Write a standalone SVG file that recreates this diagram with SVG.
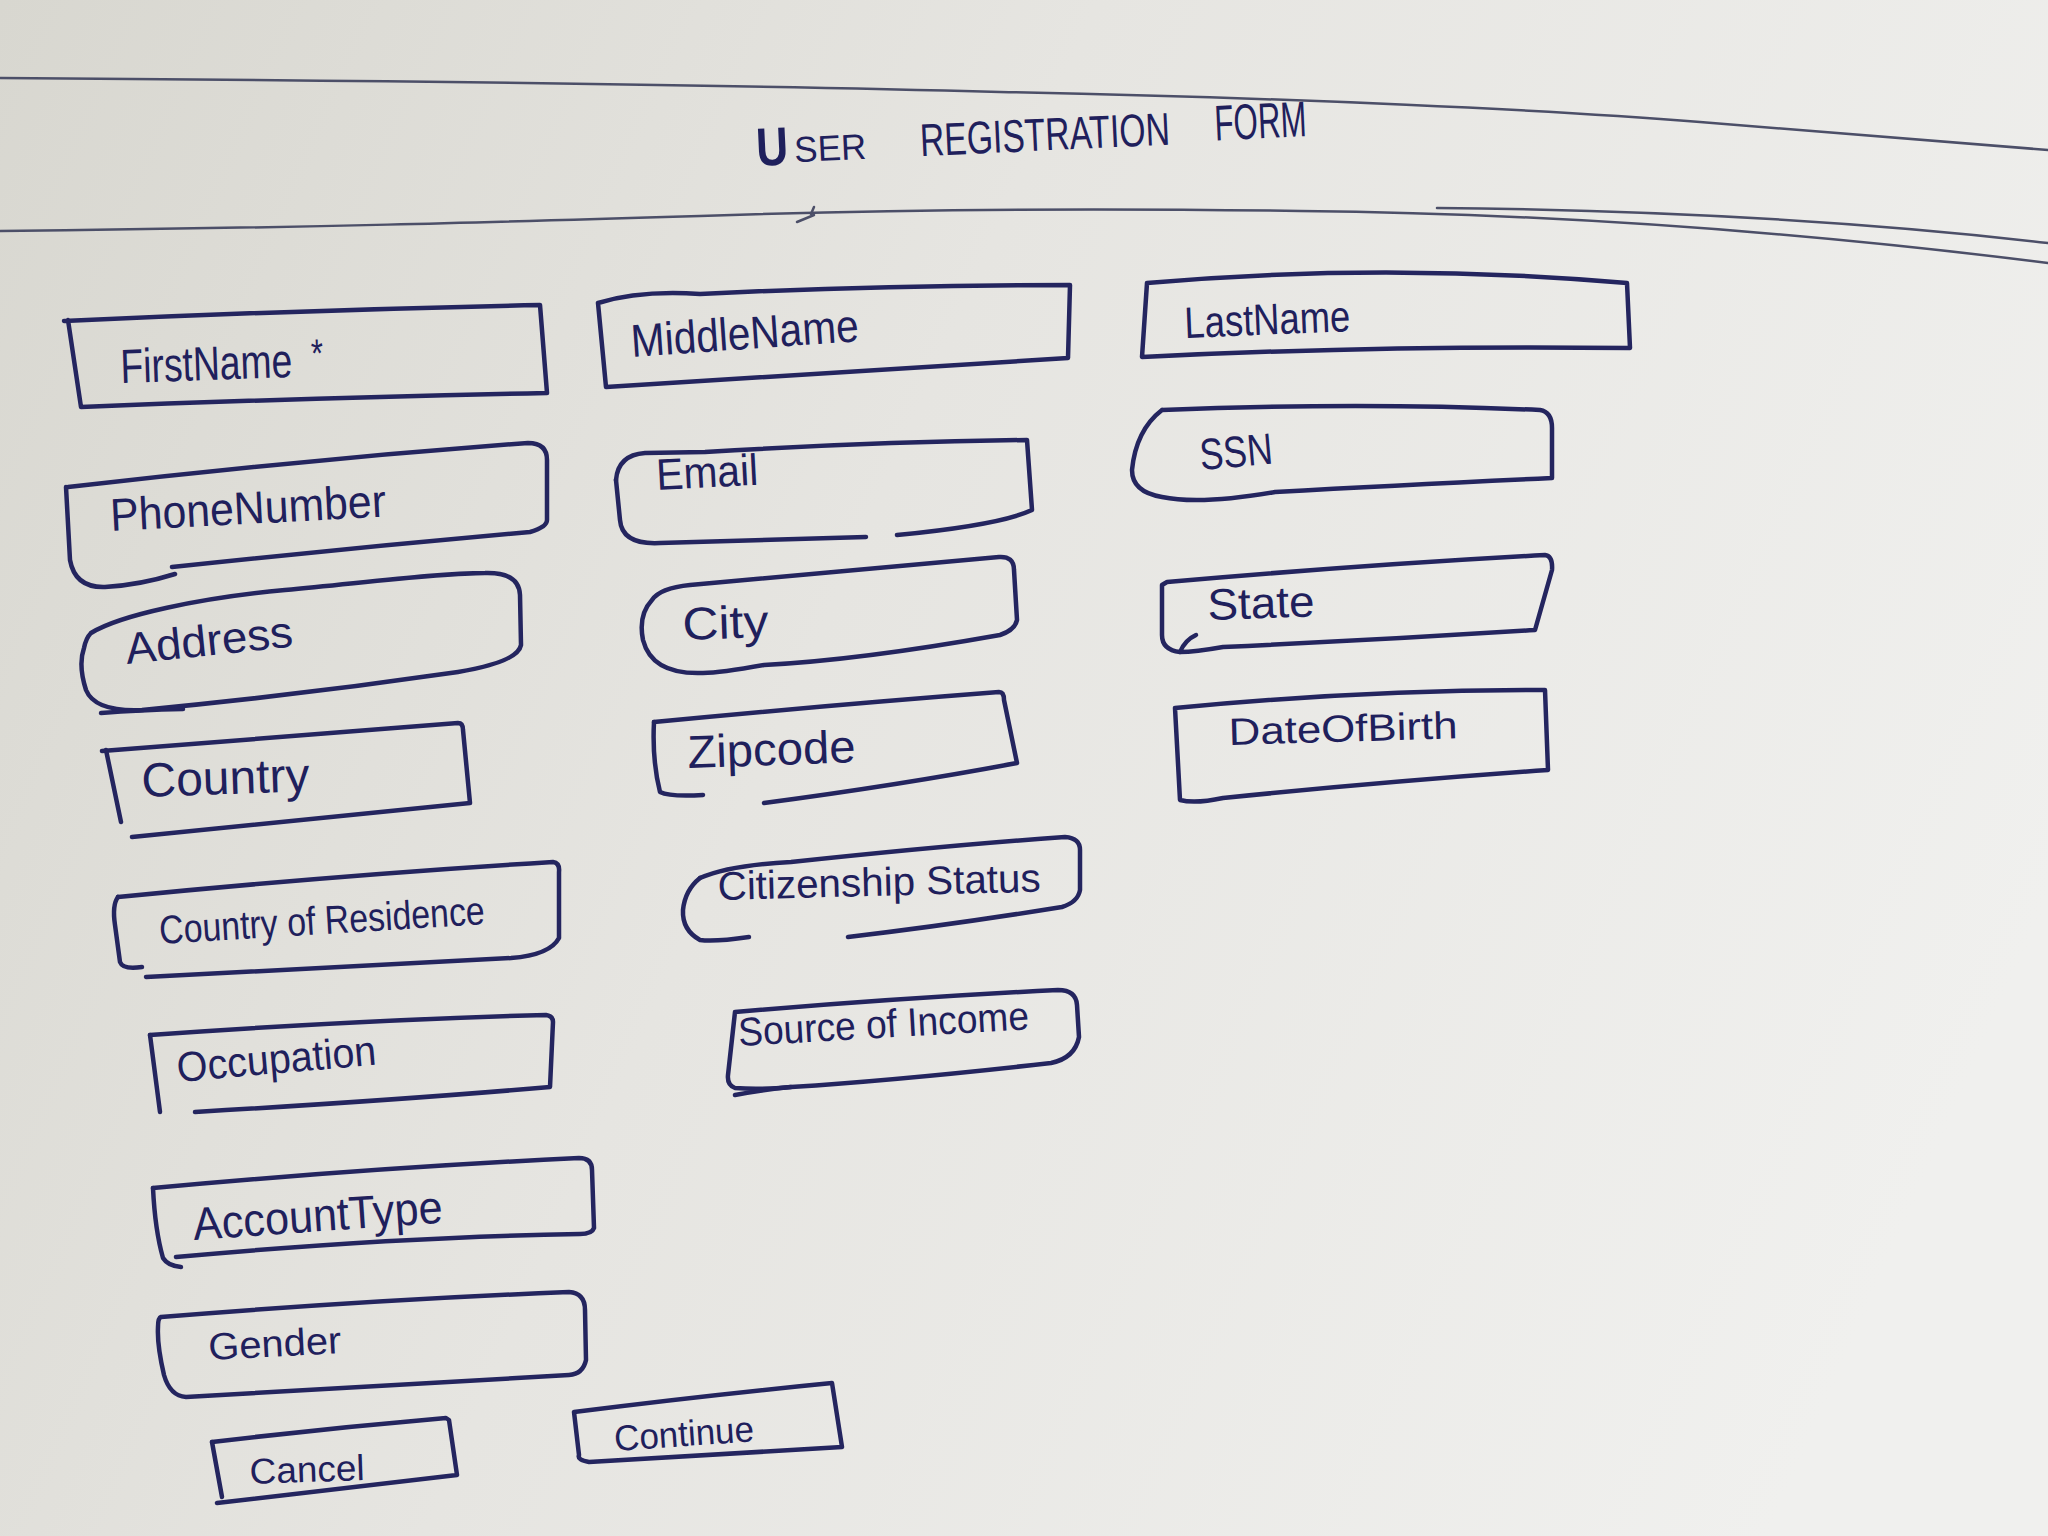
<svg xmlns="http://www.w3.org/2000/svg" width="2048" height="1536" viewBox="0 0 2048 1536">
<defs>
<linearGradient id="paper" x1="0" y1="0" x2="2048" y2="900" gradientUnits="userSpaceOnUse">
<stop offset="0" stop-color="#d8d7d0"/>
<stop offset="0.45" stop-color="#e6e5e1"/>
<stop offset="1" stop-color="#f0f0ee"/>
</linearGradient>
<style>
.box{fill:none;stroke:#24255f;stroke-width:4.5;stroke-linecap:round;stroke-linejoin:round}
.rule{fill:none;stroke:#4c4f68;stroke-width:2.5;stroke-linecap:round}
.lbl{font-family:"Liberation Sans",Arial,sans-serif;fill:#1f205c}
</style>
</defs>
<rect width="2048" height="1536" fill="url(#paper)"/>

<g id="rules">
<path class="rule" d="M0,78 C300,80 700,84 1000,92 C1300,98 1550,110 1700,122 C1850,133 1960,142 2048,150"/>
<path class="rule" d="M0,231 C300,228 500,222 700,216 C900,209 1100,208 1300,211 C1600,214 1850,238 2048,263"/>
<path class="rule" d="M1437,208 C1650,210 1850,220 2048,243"/>
<path class="rule" d="M797,222 L814,215 M811,214 L814,207"/>
</g>

<g id="title">
<text class="lbl" transform="rotate(-2.7 757 166)"><tspan x="757" y="166" font-size="54" font-weight="bold" textLength="32" lengthAdjust="spacingAndGlyphs">U</tspan><tspan x="795" y="164" font-size="36" textLength="72" lengthAdjust="spacingAndGlyphs">SER</tspan><tspan x="921" y="164" font-size="46" textLength="250" lengthAdjust="spacingAndGlyphs">REGISTRATION</tspan><tspan x="1216" y="162" font-size="50" textLength="92" lengthAdjust="spacingAndGlyphs">FORM</tspan></text>
</g>

<g id="connectors"></g>

<g id="firstName">
<path class="box" d="M64,321 Q300,310 540,305 L547,393 Q300,398 81,407 L68,320"/>
<text class="lbl" x="121" y="383" font-size="48" textLength="184" lengthAdjust="spacingAndGlyphs" transform="rotate(-2 121 383)">FirstName<tspan x="312" y="374" font-size="40">*</tspan></text>
</g>

<g id="middleName">
<path class="box" d="M598,303 Q640,290 700,294 Q880,285 1070,285 L1068,358 Q830,372 606,387 L598,303"/>
<text class="lbl" x="632" y="357" font-size="46" textLength="228" lengthAdjust="spacingAndGlyphs" transform="rotate(-4 632 357)">MiddleName</text>
</g>

<g id="lastName">
<path class="box" d="M1147,283 Q1385,262 1627,283 L1630,348 Q1380,345 1142,357 L1147,283"/>
<text class="lbl" x="1185" y="338" font-size="44" textLength="166" lengthAdjust="spacingAndGlyphs" transform="rotate(-2.4 1185 338)">LastName</text>
</g>

<g id="phoneNumber">
<path class="box" d="M68,487 Q300,460 528,443 Q547,443 547,460 L547,520 Q547,527 530,532 Q350,548 172,567"/>
<path class="box" d="M66,487 L70,560 Q75,588 105,587 Q140,585 175,574"/>
<text class="lbl" x="111" y="531" font-size="46" textLength="276" lengthAdjust="spacingAndGlyphs" transform="rotate(-3 111 531)">PhoneNumber</text>
</g>

<g id="email">
<path class="box" d="M616,480 Q618,455 645,453 L705,452 Q870,442 1027,440 L1032,510 Q1000,525 897,535"/>
<path class="box" d="M866,537 Q760,540 660,543 Q622,545 620,520 L616,480"/>
<text class="lbl" x="657" y="490" font-size="44" textLength="102" lengthAdjust="spacingAndGlyphs" transform="rotate(-3 657 490)">Email</text>
</g>

<g id="ssn">
<path class="box" d="M1162,410 Q1360,402 1540,410 Q1552,412 1552,428 L1552,478 Q1400,485 1275,492 Q1200,505 1162,497 Q1132,492 1132,470 Q1136,430 1162,410"/>
<text class="lbl" x="1201" y="470" font-size="44" textLength="73" lengthAdjust="spacingAndGlyphs" transform="rotate(-5 1201 470)">SSN</text>
</g>

<g id="address">
<path class="box" d="M91,633 C120,615 200,598 285,590 S440,573 485,573 Q519,572 520,595 L521,645 Q518,662 458,672 Q300,695 142,710 Q95,712 86,690 Q78,665 84,648 Q86,638 91,633"/>
<path class="box" d="M101,713 Q140,710 183,709"/>
<text class="lbl" x="127" y="664" font-size="44" textLength="168" lengthAdjust="spacingAndGlyphs" transform="rotate(-6 127 664)">Address</text>
</g>

<g id="city">
<path class="box" d="M652,600 Q660,588 690,585 L999,557 Q1014,556 1014,570 L1017,620 Q1015,630 1000,635 Q860,660 764,665 Q720,673 703,673 Q652,675 643,640 Q638,615 652,600"/>
<text class="lbl" x="683" y="640" font-size="46" textLength="86" lengthAdjust="spacingAndGlyphs" transform="rotate(-2 683 640)">City</text>
</g>

<g id="state">
<path class="box" d="M1167,582 Q1360,565 1545,555 Q1553,556 1552,570 L1535,630 Q1380,640 1223,647 Q1195,652 1180,652 Q1162,650 1162,635 L1162,585 L1167,582"/>
<path class="box" d="M1180,652 Q1185,640 1196,635"/>
<text class="lbl" x="1208" y="620" font-size="44" textLength="107" lengthAdjust="spacingAndGlyphs" transform="rotate(-2 1208 620)">State</text>
</g>

<g id="country">
<path class="box" d="M102,751 Q300,735 458,723 Q463,723 463,730 L470,803 Q300,820 132,837"/>
<path class="box" d="M106,750 L121,822"/>
<text class="lbl" x="142" y="797" font-size="48" textLength="168" lengthAdjust="spacingAndGlyphs" transform="rotate(-2 142 797)">Country</text>
</g>

<g id="zipcode">
<path class="box" d="M654,722 Q830,705 999,692 Q1004,692 1004,700 L1017,763 Q900,785 764,803"/>
<path class="box" d="M654,722 Q652,760 660,792 Q670,797 703,795"/>
<text class="lbl" x="688" y="768" font-size="46" textLength="168" lengthAdjust="spacingAndGlyphs" transform="rotate(-2 688 768)">Zipcode</text>
</g>

<g id="dateOfBirth">
<path class="box" d="M1175,708 Q1360,690 1545,690 L1548,770 Q1380,782 1223,798 Q1195,804 1180,800 L1175,708"/>
<text class="lbl" x="1229" y="745" font-size="38" textLength="229" lengthAdjust="spacingAndGlyphs" transform="rotate(-1.7 1229 745)">DateOfBirth</text>
</g>

<g id="countryOfResidence">
<path class="box" d="M118,897 Q340,875 553,862 Q560,863 559,872 L559,938 Q550,955 511,958 Q330,968 146,977"/>
<path class="box" d="M118,897 Q112,905 115,925 L120,962 Q123,970 142,967"/>
<text class="lbl" x="160" y="944" font-size="40" textLength="326" lengthAdjust="spacingAndGlyphs" transform="rotate(-3.5 160 944)">Country of Residence</text>
</g>

<g id="citizenshipStatus">
<path class="box" d="M700,878 Q730,865 791,862 Q950,845 1065,837 Q1080,838 1080,850 L1080,890 Q1078,902 1062,907 Q950,925 848,937"/>
<path class="box" d="M749,937 Q715,942 700,940 Q682,930 683,910 Q685,890 700,878"/>
<text class="lbl" x="718" y="900" font-size="40" textLength="323" lengthAdjust="spacingAndGlyphs" transform="rotate(-1.5 718 900)">Citizenship Status</text>
</g>

<g id="occupation">
<path class="box" d="M150,1035 Q360,1020 546,1015 Q553,1016 553,1022 L550,1087 Q400,1100 195,1112"/>
<path class="box" d="M150,1035 L160,1112"/>
<text class="lbl" x="178" y="1082" font-size="42" textLength="200" lengthAdjust="spacingAndGlyphs" transform="rotate(-5 178 1082)">Occupation</text>
</g>

<g id="sourceOfIncome">
<path class="box" d="M735,1012 Q900,998 1058,990 Q1076,990 1077,1005 L1079,1037 Q1075,1058 1051,1063 Q900,1080 791,1087 Q760,1090 735,1088 Q727,1085 728,1075 L735,1012"/>
<path class="box" d="M735,1095 Q760,1090 791,1087"/>
<text class="lbl" x="739" y="1046" font-size="40" textLength="291" lengthAdjust="spacingAndGlyphs" transform="rotate(-3.3 739 1046)">Source of Income</text>
</g>

<g id="accountType">
<path class="box" d="M153,1188 Q370,1168 579,1158 Q592,1158 592,1170 L594,1228 Q592,1234 580,1234 Q395,1237 176,1257"/>
<path class="box" d="M153,1188 Q155,1230 163,1258 Q168,1266 181,1267"/>
<text class="lbl" x="194" y="1240" font-size="46" textLength="250" lengthAdjust="spacingAndGlyphs" transform="rotate(-4 194 1240)">AccountType</text>
</g>

<g id="gender">
<path class="box" d="M161,1317 Q370,1300 569,1292 Q585,1293 585,1310 L586,1360 Q583,1374 569,1375 Q380,1385 186,1397 Q170,1396 164,1375 Q157,1345 158,1327 Q158,1318 161,1317"/>
<text class="lbl" x="209" y="1360" font-size="38" textLength="133" lengthAdjust="spacingAndGlyphs" transform="rotate(-3 209 1360)">Gender</text>
</g>

<g id="cancel">
<path class="box" d="M212,1442 Q330,1428 446,1418 L449,1420 L457,1475 Q330,1490 217,1503"/>
<path class="box" d="M212,1442 L222,1497"/>
<text class="lbl" x="250" y="1484" font-size="36" textLength="115" lengthAdjust="spacingAndGlyphs" transform="rotate(-2 250 1484)">Cancel</text>
</g>

<g id="continue">
<path class="box" d="M574,1412 Q700,1396 832,1383 L842,1447 Q700,1455 589,1462 Q577,1460 579,1455 L574,1412"/>
<text class="lbl" x="615" y="1451" font-size="36" textLength="140" lengthAdjust="spacingAndGlyphs" transform="rotate(-4 615 1451)">Continue</text>
</g>
</svg>
